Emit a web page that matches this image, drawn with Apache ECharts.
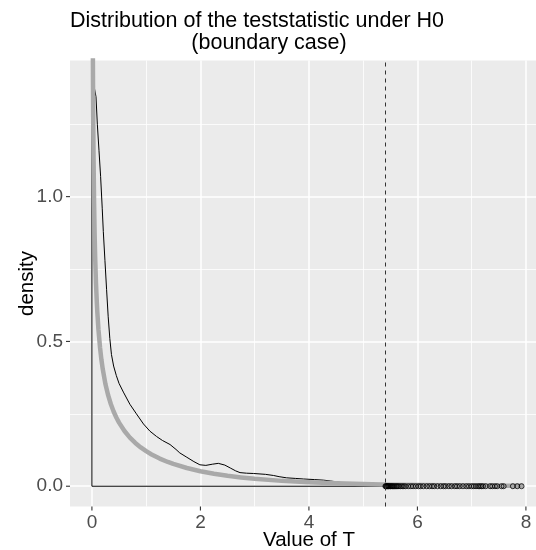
<!DOCTYPE html>
<html>
<head>
<meta charset="utf-8">
<script src="https://cdn.jsdelivr.net/npm/echarts@6/dist/echarts.min.js"></script>
<style>
  html, body { margin: 0; padding: 0; background: #ffffff; }
  #chart { width: 536px; height: 550px; }
</style>
</head>
<body>
<div id="chart"></div>
<script>
// Kernel density of the simulated test statistic (x, density)
const densityX = [0, 0.02, 0.04, 0.075, 0.10, 0.13, 0.16, 0.19, 0.21, 0.24, 0.27, 0.30, 0.33, 0.36,
  0.40, 0.45, 0.50, 0.58, 0.70, 0.82, 0.95, 1.07, 1.19, 1.30, 1.44, 1.55, 1.62, 1.75, 1.88, 1.99,
  2.10, 2.22, 2.33, 2.45, 2.55, 2.65, 2.73, 2.85, 2.98, 3.2, 3.35, 3.45, 3.59, 3.75, 3.9, 4.1, 4.27,
  4.4, 4.51, 4.7, 5.0, 5.4, 5.8, 6.5, 7.0, 7.5, 7.95];
const densityY = [1.39, 1.40, 1.395, 1.345, 1.25, 1.16, 1.07, 0.96, 0.88, 0.78, 0.68, 0.585, 0.51, 0.455,
  0.415, 0.382, 0.355, 0.325, 0.283, 0.25, 0.215, 0.19, 0.172, 0.158, 0.144, 0.127, 0.115, 0.100, 0.085, 0.074,
  0.072, 0.076, 0.079, 0.073, 0.063, 0.053, 0.047, 0.045, 0.044, 0.041, 0.037, 0.033, 0.029, 0.027, 0.025, 0.023, 0.021,
  0.018, 0.015, 0.010, 0.006, 0.004, 0.003, 0.002, 0.0015, 0.001, 0.0005];

// Reference density of the boundary-case null distribution (x, density)
const refX = [0.01, 0.015, 0.02, 0.025, 0.03, 0.04, 0.05, 0.06, 0.075, 0.09, 0.1, 0.12, 0.15, 0.175,
  0.2, 0.25, 0.3, 0.35, 0.4, 0.45, 0.5, 0.6, 0.7, 0.8, 0.9, 1.0, 1.1, 1.25, 1.4, 1.5, 1.75, 2.0,
  2.25, 2.5, 2.75, 3.0, 3.5, 4.0, 4.5, 5.0, 5.5, 6.0, 6.5, 7.0, 7.5, 7.95];
const refY = [1.985, 1.616, 1.396, 1.246, 1.134, 0.978, 0.870, 0.790, 0.701, 0.636, 0.600, 0.542, 0.478, 0.437,
  0.404, 0.352, 0.3135, 0.283, 0.258, 0.2374, 0.2197, 0.1908, 0.168, 0.1495, 0.1341, 0.121, 0.1097, 0.0955,
  0.0837, 0.0769, 0.0629, 0.0519, 0.0432, 0.0361, 0.0304, 0.0257, 0.0185, 0.0135, 0.0099, 0.0073, 0.0054,
  0.0041, 0.0030, 0.0023, 0.0017, 0.0013];

// Simulated values beyond the critical value
const tailValues = [5.41, 5.42, 5.43, 5.44, 5.45, 5.46, 5.47, 5.48, 5.50, 5.51, 5.53, 5.54, 5.56, 5.58,
  5.60, 5.62, 5.64, 5.66, 5.69, 5.72, 5.75, 5.78, 5.83, 5.88, 5.92, 5.97, 6.02, 6.06, 6.11, 6.17,
  6.22, 6.27, 6.31, 6.37, 6.43, 6.48, 6.52, 6.58, 6.63, 6.69, 6.73, 6.78, 6.84, 6.90, 6.95, 7.00,
  7.04, 7.08, 7.12, 7.15, 7.18, 7.21, 7.26, 7.34, 7.38, 7.43, 7.47, 7.55, 7.59, 7.76, 7.84, 7.92];

// Critical value (dashed line)
const criticalValue = 5.41;

// Axis ticks and grid breaks
const xTicks = [0, 2, 4, 6, 8];
const xMinor = [1, 3, 5, 7];
const yTicks = [0, 0.5, 1.0];
const yMinor = [0.25, 0.75, 1.25];

const titleLines = ['Distribution of the teststatistic under H0', '(boundary case)'];
const xTitle = 'Value of T';
const yTitle = 'density';

const FONT = '"Liberation Sans", Arial, Helvetica, sans-serif';
const X_MIN = -0.404, X_MAX = 8.186, Y_MIN = -0.07, Y_MAX = 1.47;
const TICK_LEN = 4;
const TICK_COLOR = '#333333';

const densityCurve = densityX.map((x, i) => [x, densityY[i]]);
const densityOutline = [
  [densityX[0], densityY[0]],
  [densityX[0], 0],
  [densityX[densityX.length - 1], 0],
  [densityX[densityX.length - 1], densityY[densityY.length - 1]]
];
const refCurve = refX.map((x, i) => [x, refY[i]]);
const tailPoints = tailValues.map(v => [v, 0]);

const gridLines = [];
xMinor.forEach(v => gridLines.push({ xAxis: v, lineStyle: { width: 0.8 } }));
yMinor.forEach(v => gridLines.push({ yAxis: v, lineStyle: { width: 0.8 } }));
xTicks.forEach(v => gridLines.push({ xAxis: v, lineStyle: { width: 1.5 } }));
yTicks.forEach(v => gridLines.push({ yAxis: v, lineStyle: { width: 1.5 } }));

// Tick marks outside the panel, placed through the axis scales
const tickMarks = xTicks.map(v => [v, Y_MIN, 0]).concat(yTicks.map(v => [X_MIN, v, 1]));
function renderTick(params, api) {
  const p = api.coord([api.value(0), api.value(1)]);
  const vertical = api.value(2) === 0;
  const shape = vertical
    ? { x1: p[0], y1: p[1], x2: p[0], y2: p[1] + TICK_LEN }
    : { x1: p[0] - TICK_LEN, y1: p[1], x2: p[0], y2: p[1] };
  return { type: 'line', shape: shape, style: { stroke: TICK_COLOR, lineWidth: 1.1 } };
}

const chart = echarts.init(document.getElementById('chart'), null, { renderer: 'canvas' });

chart.setOption({
  animation: false,
  backgroundColor: '#ffffff',
  textStyle: { fontFamily: FONT },
  grid: {
    left: 70, right: 0, top: 60.5, bottom: 43.5,
    show: true, backgroundColor: '#EBEBEB', borderWidth: 0,
    containLabel: false
  },
  xAxis: {
    type: 'value', min: X_MIN, max: X_MAX,
    axisLine: { show: false },
    splitLine: { show: false },
    axisTick: { show: false },
    axisLabel: { customValues: xTicks, margin: 7, color: '#4D4D4D', fontSize: 19, fontFamily: FONT }
  },
  yAxis: {
    type: 'value', min: Y_MIN, max: Y_MAX,
    axisLine: { show: false },
    splitLine: { show: false },
    axisTick: { show: false },
    axisLabel: { customValues: yTicks, margin: 7, color: '#4D4D4D', fontSize: 19, fontFamily: FONT,
      formatter: v => v.toFixed(1) }
  },
  graphic: [
    { type: 'text', x: 257, y: 21, style: { text: titleLines[0], font: '21.5px ' + FONT, fill: '#000', align: 'center', verticalAlign: 'middle' } },
    { type: 'text', x: 269, y: 43, style: { text: titleLines[1], font: '21.5px ' + FONT, fill: '#000', align: 'center', verticalAlign: 'middle' } },
    { type: 'text', x: 309, y: 540, style: { text: xTitle, font: '20.5px ' + FONT, fill: '#000', align: 'center', verticalAlign: 'middle' } },
    { type: 'text', x: 27, y: 283.5, rotation: Math.PI / 2, style: { text: yTitle, font: '20.5px ' + FONT, fill: '#000', align: 'center', verticalAlign: 'middle' } }
  ],
  series: [
    {
      name: 'grid',
      type: 'line',
      data: [],
      z: 1,
      silent: true,
      markLine: {
        z: 1,
        silent: true,
        symbol: ['none', 'none'],
        label: { show: false },
        lineStyle: { color: '#FFFFFF', type: 'solid' },
        emphasis: { disabled: true },
        data: gridLines
      }
    },
    {
      name: 'ticks',
      type: 'custom',
      data: tickMarks,
      clip: false,
      silent: true,
      z: 2,
      renderItem: renderTick
    },
    {
      name: 'density outline',
      type: 'line',
      data: densityOutline,
      z: 3,
      symbol: 'none',
      lineStyle: { color: '#000000', width: 1 }
    },
    {
      name: 'density',
      type: 'line',
      data: densityCurve,
      z: 3,
      symbol: 'none',
      lineStyle: { color: '#000000', width: 1 }
    },
    {
      name: 'reference',
      type: 'line',
      data: refCurve,
      z: 4,
      symbol: 'none',
      lineStyle: { color: '#A9A9A9', width: 4.5, join: 'round', cap: 'butt' }
    },
    {
      name: 'tail',
      type: 'scatter',
      data: tailPoints,
      z: 5,
      symbol: 'circle',
      symbolSize: 5,
      itemStyle: { color: 'rgba(0,0,0,0)', borderColor: '#000000', borderWidth: 1 }
    },
    {
      name: 'critical',
      type: 'line',
      data: [],
      z: 6,
      markLine: {
        z: 6,
        silent: true,
        symbol: ['none', 'none'],
        label: { show: false },
        lineStyle: { color: '#333333', width: 1, type: [4, 4] },
        data: [{ xAxis: criticalValue }]
      }
    }
  ]
});
</script>
</body>
</html>
